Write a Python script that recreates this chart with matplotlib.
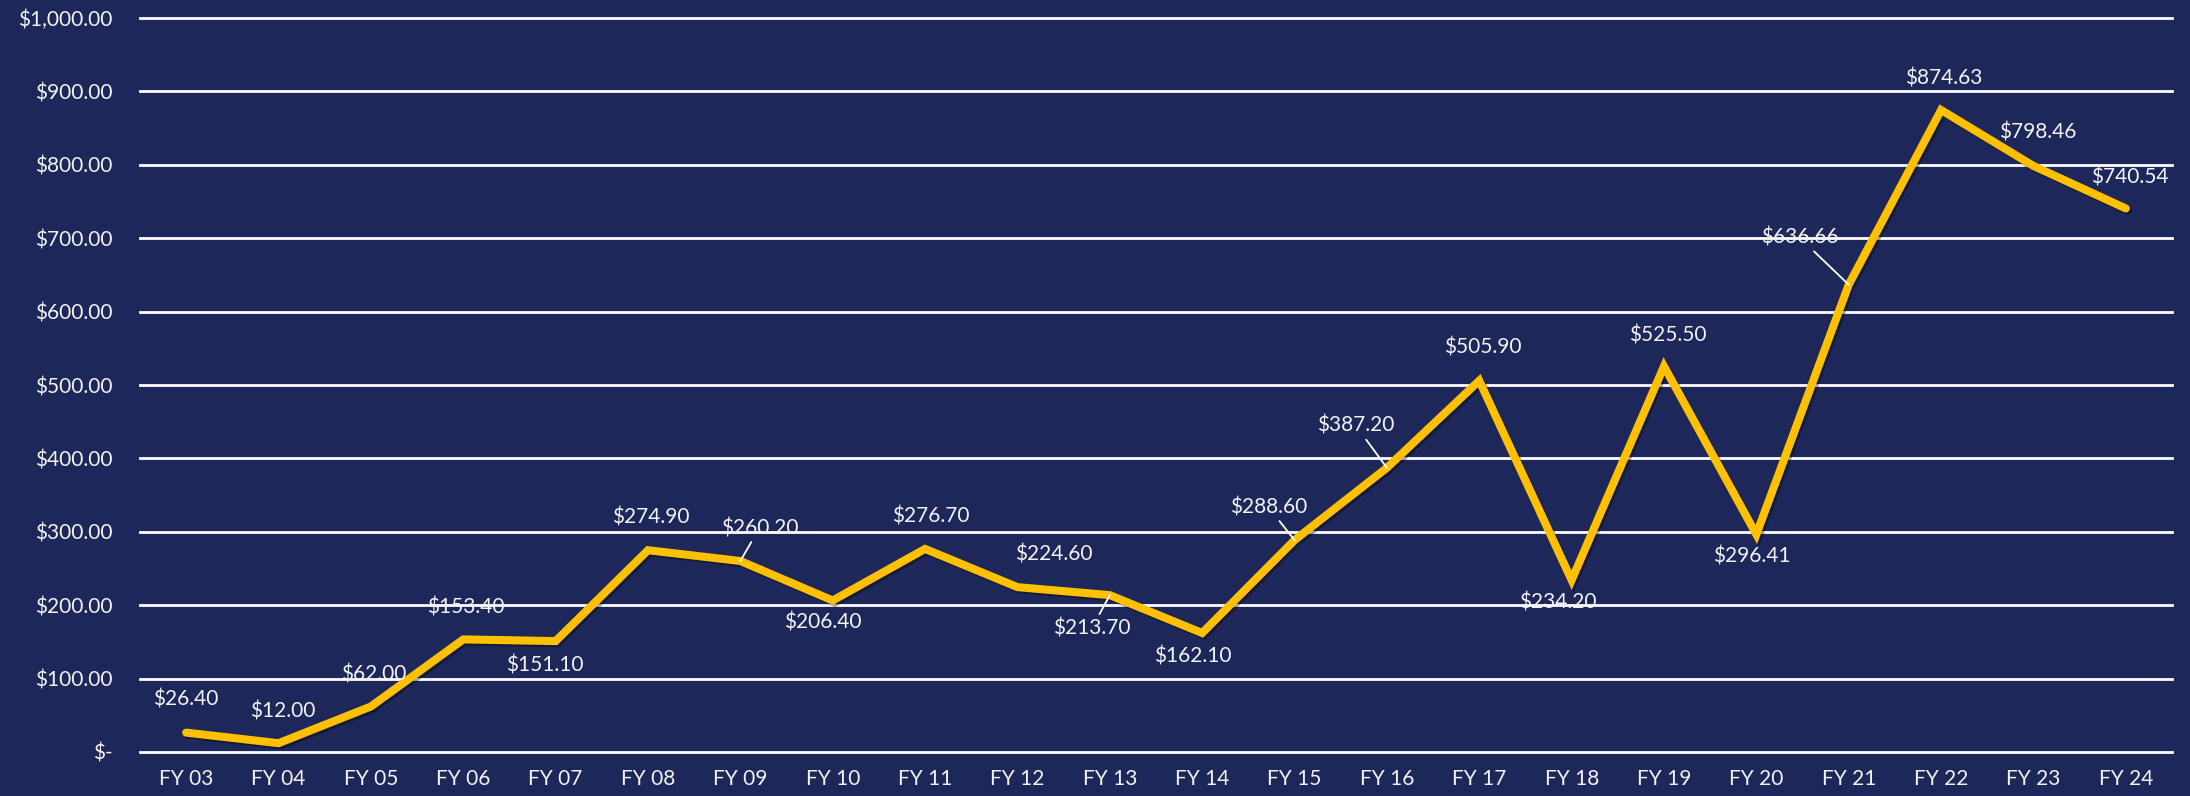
import matplotlib
matplotlib.use("Agg")
import matplotlib.pyplot as plt
import matplotlib.patheffects as pe
from matplotlib.ticker import FixedLocator, FuncFormatter

# ---- data ----
categories = ["FY 03", "FY 04", "FY 05", "FY 06", "FY 07", "FY 08", "FY 09", "FY 10",
              "FY 11", "FY 12", "FY 13", "FY 14", "FY 15", "FY 16", "FY 17", "FY 18",
              "FY 19", "FY 20", "FY 21", "FY 22", "FY 23", "FY 24"]
values = [26.40, 12.00, 62.00, 153.40, 151.10, 274.90, 260.20, 206.40,
          276.70, 224.60, 213.70, 162.10, 288.60, 387.20, 505.90, 234.20,
          525.50, 296.41, 636.66, 874.63, 798.46, 740.54]
y_ticks = [0, 100, 200, 300, 400, 500, 600, 700, 800, 900, 1000]

# ---- label placement (pixel offsets from point, leader flag) ----
label_offsets = [(0, 33, False), (4, 32, False), (3, 32, False), (2, 32, False),
                 (-11, -24, False), (3, 33, False), (19, 33, True), (-10, -22, False),
                 (6, 32, False), (36, 33, False), (-18, -33, True), (-9, -23, False),
                 (-26, 33, True), (-31, 42, True), (3, 33, False), (-14, -22, False),
                 (4, 31, False), (-5, -22, False), (-49, 47, True), (3, 32, False),
                 (4, 33, False), (4, 31, False)]

BG = "#1E2759"
LINE = "#FFC000"
TXT = "#F2F2F2"
FONT = "Lato"

W, H = 2190, 796
fig = plt.figure(figsize=(W / 100, H / 100), dpi=100, facecolor=BG)
ax = fig.add_axes([140 / W, 1 - 752 / H, (2172 - 140) / W, (752 - 18) / H])
ax.set_facecolor(BG)

x = list(range(len(categories)))
ax.plot(x, values, color=LINE, lw=5.8, solid_joinstyle="miter", solid_capstyle="round",
        zorder=3, clip_on=False,
        path_effects=[pe.SimpleLineShadow(offset=(1.5, -1.5), shadow_color="black", alpha=0.35),
                      pe.Normal()])

ax.set_xlim(-0.5, len(categories) - 0.5)
ax.set_ylim(0, 1000)
ax.yaxis.set_major_locator(FixedLocator(y_ticks))


def fmt(v, _):
    if v == 0:
        return "$-"
    return "${:,.2f}".format(v)


ax.yaxis.set_major_formatter(FuncFormatter(fmt))
ax.set_xticks(x)
ax.set_xticklabels(categories)
ax.tick_params(axis="both", length=0, colors=TXT, labelsize=15)
ax.tick_params(axis="x", pad=12)
ax.tick_params(axis="y", pad=20)
for lab in ax.get_xticklabels() + ax.get_yticklabels():
    lab.set_fontfamily(FONT)

ax.grid(axis="y", color="white", lw=2)
ax.set_axisbelow(True)
for gl in ax.get_ygridlines():
    gl.set_clip_on(False)
for s in ax.spines.values():
    s.set_visible(False)

for i, v in enumerate(values):
    dx, dy, leader = label_offsets[i]
    kw = dict(xy=(i, v), xytext=(dx, dy), textcoords="offset pixels",
              ha="center", va="center", color=TXT, fontsize=15, fontfamily=FONT, zorder=5)
    if leader:
        kw["arrowprops"] = dict(arrowstyle="-", color="white", lw=1.3, shrinkA=1, shrinkB=0)
    ax.annotate("${:,.2f}".format(v), **kw)

fig.savefig("out.png", dpi=100, facecolor=BG)
